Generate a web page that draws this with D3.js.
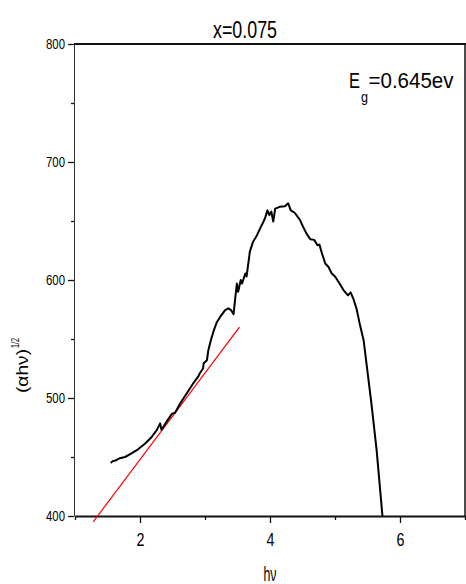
<!DOCTYPE html>
<html><head><meta charset="utf-8">
<script src="https://cdn.jsdelivr.net/npm/d3@7"></script>
<style>
body{margin:0;background:#fff}
svg{display:block}
text{font-family:"Liberation Sans",Arial,sans-serif;fill:#000}
</style>
</head><body>
<svg id="c" width="466" height="584"></svg>
<script>
// ---- data ----
const hv = [1.55,1.58,1.62,1.69,1.77,1.87,1.97,2.08,2.18,2.26,2.31,2.33,2.41,2.49,2.54,2.62,2.72,2.82,2.90,2.92,2.97,2.98,3.03,3.05,3.09,3.14,3.18,3.23,3.31,3.36,3.40,3.44,3.46,3.49,3.51,3.55,3.57,3.62,3.64,3.67,3.69,3.74,3.80,3.85,3.90,3.93,3.96,3.99,4.02,4.05,4.08,4.15,4.23,4.28,4.32,4.38,4.46,4.51,4.56,4.62,4.68,4.73,4.76,4.80,4.85,4.90,4.95,5.00,5.07,5.13,5.20,5.24,5.28,5.33,5.38,5.44,5.56,5.64,5.73];
const ahv = [445,446.5,447,449,450,453,456.5,461.5,467,473,478.5,473,480,486.5,487.5,495.5,504,512.5,518.5,521,525,529.5,532,540,549,558,564,568.5,574.5,576,574.5,571,582,597,590,600,597,605.5,603,615.5,624,632.5,638,644,649.5,653.5,659,655,658,649.5,660.5,662,662.5,665,659,657,651,645,639.5,634.5,634,629.5,630,622.5,614,611,605.5,603,597,591.5,587,589.5,584.5,576,563,549,495.5,456,400];
const fitX = [1.28, 3.53];
const fitY = [395, 560];
const xTicks = [1,2,3,4,5,6,7];
const xLabelTicks = [2,4,6];
const yTicks = [400,450,500,550,600,650,700,750,800];
const yLabelTicks = [400,500,600,700,800];
const titleText = "x=0.075";
const xTitle = "hν";
const yTitleMain = "(αhν)";
const yTitleSup = "1/2";
const egMain = "E", egSub = "g", egRest = "=0.645ev";

// ---- chart ----
const svg = d3.select("#c");
const x = d3.scaleLinear().domain([1,7]).range([75,465]);
const y = d3.scaleLinear().domain([400,800]).range([516,44]);

// x axis
const gx = svg.append("g").attr("transform",`translate(0,${y(400)})`)
  .call(d3.axisBottom(x).tickValues(xTicks).tickSize(7).tickSizeOuter(0)
    .tickFormat(d => xLabelTicks.includes(d) ? d : ""));
gx.select(".domain").attr("stroke","#111").attr("stroke-width",2);
gx.selectAll(".tick line").attr("stroke","#111").attr("stroke-width",1.3)
  .attr("y2", d => xLabelTicks.includes(d) ? 7 : 4);
gx.selectAll(".tick text").attr("y",17).attr("font-size",19)
  .attr("font-family",'"Liberation Sans",Arial,sans-serif').attr("fill","#000")
  .attr("textLength",8).attr("lengthAdjust","spacingAndGlyphs");

// y axis
const gy = svg.append("g").attr("transform",`translate(${x(1)-1},0)`)
  .call(d3.axisLeft(y).tickValues(yTicks).tickSize(6).tickSizeOuter(0)
    .tickFormat(d => yLabelTicks.includes(d) ? d : ""));
gy.select(".domain").attr("stroke","#333").attr("stroke-width",1);
gy.selectAll(".tick line").attr("stroke","#111").attr("stroke-width",1.3)
  .attr("x2", d => yLabelTicks.includes(d) ? -6 : -3);
gy.selectAll(".tick text").attr("x",-9).attr("font-size",15)
  .attr("font-family",'"Liberation Sans",Arial,sans-serif').attr("fill","#000")
  .attr("textLength",19).attr("lengthAdjust","spacingAndGlyphs");

// frame top and right
svg.append("line").attr("x1",x(1)-1).attr("x2",x(7)+1).attr("y1",y(800)).attr("y2",y(800))
  .attr("stroke","#111").attr("stroke-width",2);
svg.append("line").attr("x1",x(7)).attr("x2",x(7)).attr("y1",y(800)).attr("y2",y(400))
  .attr("stroke","#111").attr("stroke-width",1.5);

// fit line
svg.append("line").attr("x1",x(fitX[0])).attr("y1",y(fitY[0]))
  .attr("x2",x(fitX[1])).attr("y2",y(fitY[1]))
  .attr("stroke","#ff0000").attr("stroke-width",1.2);

// data curve
const pts = hv.map((v,i)=>[v,ahv[i]]);
svg.append("path").datum(pts)
  .attr("d", d3.line().x(d=>x(d[0])).y(d=>y(d[1])))
  .attr("fill","none").attr("stroke","#000").attr("stroke-width",2)
  .attr("stroke-linejoin","round");

// title
svg.append("text").attr("x",245).attr("y",38).attr("text-anchor","middle")
  .attr("font-size",24).attr("textLength",64).attr("lengthAdjust","spacingAndGlyphs")
  .text(titleText);

// Eg label (single text element with subscript)
const eg = svg.append("text").attr("x",349).attr("y",88).attr("font-size",22);
eg.append("tspan").attr("textLength",11).attr("lengthAdjust","spacingAndGlyphs").text(egMain);
eg.append("tspan").attr("dy",14).attr("dx",1).attr("font-size",15)
  .attr("textLength",7).attr("lengthAdjust","spacingAndGlyphs").text(egSub);
eg.append("tspan").attr("dy",-14).attr("dx",0.5)
  .attr("textLength",85).attr("lengthAdjust","spacingAndGlyphs").text(egRest);

// x title
svg.append("text").attr("x",270).attr("y",581).attr("text-anchor","middle")
  .attr("font-size",20).attr("textLength",13).attr("lengthAdjust","spacingAndGlyphs")
  .text(xTitle);

// y title
const yt = svg.append("text").attr("transform","translate(28,393) rotate(-90)")
  .attr("font-size",17);
yt.append("tspan").attr("textLength",44).attr("lengthAdjust","spacingAndGlyphs").text(yTitleMain);
yt.append("tspan").attr("dy",-9).attr("dx",1).attr("font-size",10)
  .attr("textLength",10).attr("lengthAdjust","spacingAndGlyphs").text(yTitleSup);
</script>
</body></html>
